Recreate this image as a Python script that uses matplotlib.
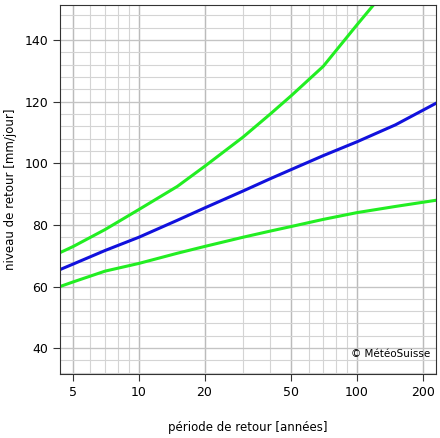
import numpy as np
import matplotlib
matplotlib.use("Agg")
import matplotlib.pyplot as plt

periods = [4.35, 5, 7, 10, 15, 20, 30, 40, 50, 70, 100, 150, 230]
central = [65.5, 67.3, 71.7, 76.0, 81.5, 85.5, 91.0, 95.0, 98.0, 102.5, 107.0, 112.5, 119.5]
upper = [71.0, 73.0, 78.5, 85.0, 92.5, 99.0, 108.5, 116.0, 122.0, 131.5, 145.0, 160.0, 178.0]
lower = [60.0, 61.5, 65.0, 67.5, 70.8, 73.0, 76.0, 78.0, 79.5, 81.8, 84.0, 86.0, 88.0]
xticks = [5, 10, 20, 50, 100, 200]
yticks = [40, 60, 80, 100, 120, 140]

fig = plt.figure(figsize=(4.40, 4.38), dpi=100)
ax = fig.add_axes([60/440, 1-374/438, 376/440, 369/438])
ax.set_xscale("log")
ax.set_xlim(4.35, 230)
ax.set_ylim(31.6, 151.4)

minor_x = [m*10**e for e in range(0, 3) for m in range(1, 10)]
for v in minor_x:
    if 4.35 < v < 230:
        ax.axvline(v, color="#d4d4d4", lw=0.8, zorder=0)
for v in xticks:
    ax.axvline(v, color="#bbbbbb", lw=1.0, zorder=0)
for v in np.arange(32, 152, 4):
    ax.axhline(v, color="#d4d4d4", lw=0.8, zorder=0)
for v in yticks:
    ax.axhline(v, color="#c4c4c4", lw=0.9, zorder=0)

ax.plot(periods, upper, color="#22ee22", lw=2.2)
ax.plot(periods, lower, color="#22ee22", lw=2.2)
ax.plot(periods, central, color="#1111dd", lw=2.2)

ax.set_xticks(xticks)
ax.set_xticklabels([str(t) for t in xticks])
ax.xaxis.set_minor_locator(matplotlib.ticker.NullLocator())
ax.set_yticks(yticks)
ax.tick_params(labelsize=9, length=5, color="#333333")
for s in ax.spines.values():
    s.set_color("#333333")
ax.set_xlabel("période de retour [années]", fontsize=8.5, labelpad=16)
ax.set_ylabel("niveau de retour [mm/jour]", fontsize=8.5)
ax.yaxis.set_label_coords(-0.115, 0.5)
ax.text(0.985, 0.04, "© MétéoSuisse", transform=ax.transAxes, ha="right", va="bottom", fontsize=7.5)
fig.savefig("out.png", dpi=100)
